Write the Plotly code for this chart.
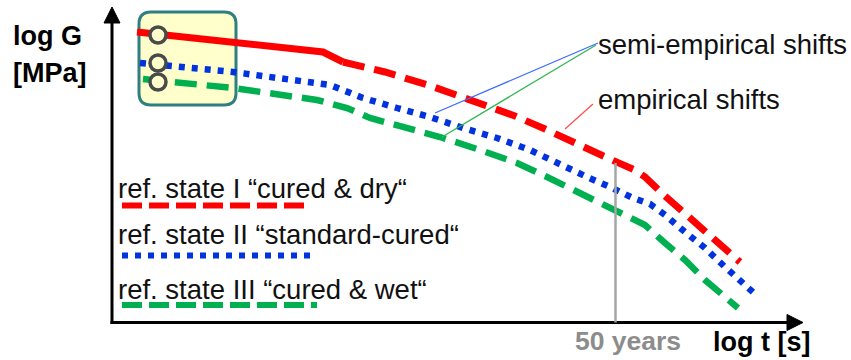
import plotly.graph_objects as go

W, H = 851, 360

# Master curves, log t (horizontal units) vs log G (vertical units)
red_t = [137, 323, 343, 385, 431, 475, 515, 545, 570, 592, 612, 635, 645, 665, 685, 705, 725, 740]
red_g = [328, 308, 298, 288, 274, 259, 244, 231, 219, 209, 200, 190, 183, 164, 146, 128, 111, 98]
red_solid_end = 2  # measured part of the reference curve ends here

blue_t = [140, 233, 330, 363, 397, 430, 463, 497, 530, 560, 587, 610, 633, 650, 665, 685, 705, 725, 745, 755]
blue_g = [297, 288, 275, 262, 252, 243, 232, 222, 210, 195, 183, 173, 162, 156, 145, 128, 112, 93, 75, 66]

green_t = [143, 233, 317, 347, 370, 410, 440, 480, 517, 545, 570, 588, 612, 634, 645, 665, 685, 705, 725, 738]
green_g = [281, 272, 260, 252, 242, 232, 223, 210, 197, 184, 172, 164, 152, 142, 135, 117, 100, 80, 63, 52]

# Reference points at the start of each curve
ref_t = [158, 158, 158]
ref_g = [325, 297, 278]

# 50-year marker
t_50_years = 615.5

legend_labels = ["ref. state I \u201ccured & dry\u201c",
                 "ref. state II \u201cstandard-cured\u201c",
                 "ref. state III \u201ccured & wet\u201c"]

RED, BLUE, GREEN = "#ff0000", "#0033dd", "#00b050"
FONT = "Liberation Sans, Arial, sans-serif"

fig = go.Figure()

# highlighted region around the reference points
bx0, bx1, by0, by1, br = 139, 236, 255, 348, 12
box_path = (f"M {bx0+br},{by0} L {bx1-br},{by0} Q {bx1},{by0} {bx1},{by0+br} "
            f"L {bx1},{by1-br} Q {bx1},{by1} {bx1-br},{by1} L {bx0+br},{by1} "
            f"Q {bx0},{by1} {bx0},{by1-br} L {bx0},{by0+br} Q {bx0},{by0} {bx0+br},{by0} Z")
fig.add_shape(type="path", path=box_path, fillcolor="#ffffcc",
              line=dict(color="#2f7f80", width=3), layer="below")

def curve(x, y, color, dash, width=6.5):
    fig.add_trace(go.Scatter(x=x, y=y, mode="lines", hoverinfo="skip", showlegend=False,
                             line=dict(color=color, width=width, dash=dash)))

curve(green_t, green_g, GREEN, "22px,10px")
curve(blue_t, blue_g, BLUE, "6px,7px")
curve(red_t[:red_solid_end + 1], red_g[:red_solid_end + 1], RED, "solid", 7)
curve(red_t[red_solid_end:], red_g[red_solid_end:], RED, "22px,10px", 7)

# reference point markers
for t, g in zip(ref_t, ref_g):
    fig.add_shape(type="circle", x0=t - 8, x1=t + 8, y0=g - 8, y1=g + 8,
                  line=dict(color="#4a4a4a", width=3.5), fillcolor="#ffffcc", layer="above")

# axes with arrowheads
ax_x, ax_y = 112, 37.5
fig.add_shape(type="line", x0=ax_x, x1=ax_x, y0=ax_y - 1.5, y1=H - 22,
              line=dict(color="black", width=3))
fig.add_shape(type="path", path=f"M {ax_x-8},{H-23} L {ax_x+8},{H-23} L {ax_x},{H-7} Z",
              fillcolor="black", line=dict(color="black", width=1))
fig.add_shape(type="line", x0=ax_x - 1.5, x1=788, y0=ax_y, y1=ax_y,
              line=dict(color="black", width=3))
fig.add_shape(type="path", path=f"M 787,{ax_y-8} L 787,{ax_y+8} L 803,{ax_y} Z",
              fillcolor="black", line=dict(color="black", width=1))

# 50-year marker line
fig.add_shape(type="line", x0=t_50_years, x1=t_50_years, y0=ax_y, y1=197,
              line=dict(color="#a6a6a6", width=2.5))

# leader lines to the shift labels
leaders = [((598, 317), (435, 247), "#3d6cff"),
           ((596, 315), (442, 223), "#33b552"),
           ((593, 256), (565, 231), "#ff5050")]
for (x0, y0), (x1, y1), c in leaders:
    fig.add_shape(type="line", x0=x0, y0=y0, x1=x1, y1=y1, line=dict(color=c, width=1.3))

def label(x, y, text, size, color="#111111", bold=False):
    fig.add_annotation(x=x, y=y, text=f"<b>{text}</b>" if bold else text, showarrow=False,
                       xanchor="left", yanchor="middle",
                       font=dict(family=FONT, size=size, color=color))

label(11, 324, "log G", 27, "black", True)
label(11, 287, "[MPa]", 27, "black", True)
label(711, 18, "log t [s]", 27, "black", True)
label(573, 19, "50 years", 26.5, "#8c8c8c", True)
label(596, 316, "semi-empirical shifts", 27.5)
label(596, 261, "empirical shifts", 27.5)

# legend entries
leg_text_y = [172, 126, 71]
leg_line_y = [154.5, 104.5, 55]
leg_line_end = [310, 313, 317]
leg_styles = [(RED, "20px,7px", 6), (BLUE, "6px,7px", 6), (GREEN, "20px,7px", 6)]
for txt, ty, ly, le, (c, d, w) in zip(legend_labels, leg_text_y, leg_line_y, leg_line_end, leg_styles):
    label(116, ty, txt, 27.5)
    curve([122, le], [ly, ly], c, d, w)

fig.update_layout(width=W, height=H, margin=dict(l=0, r=0, t=0, b=0),
                  paper_bgcolor="white", plot_bgcolor="white", showlegend=False,
                  xaxis=dict(visible=False, range=[0, W], fixedrange=True),
                  yaxis=dict(visible=False, range=[0, H], fixedrange=True))

fig.write_html("out.html")
